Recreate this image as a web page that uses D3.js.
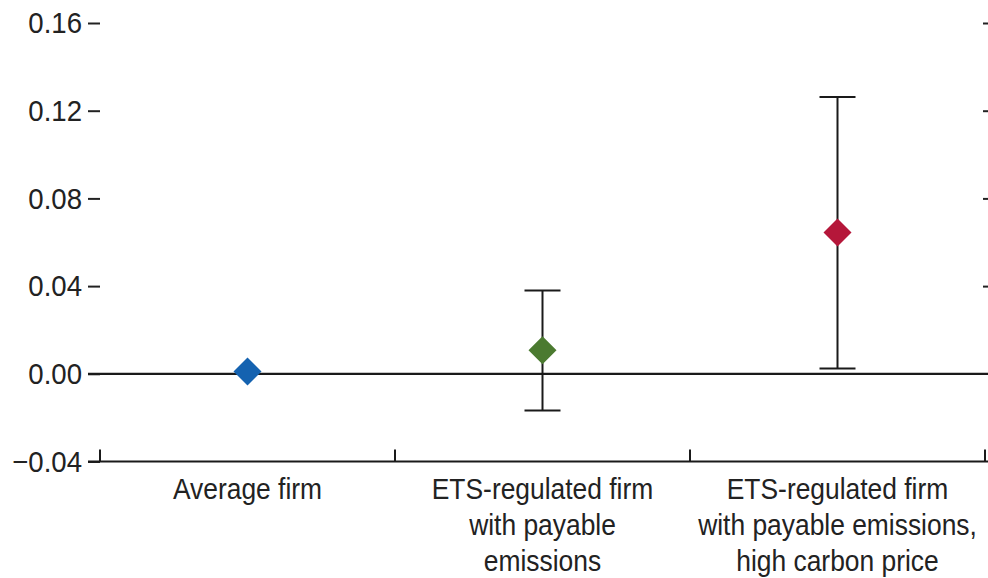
<!DOCTYPE html>
<html>
<head>
<meta charset="utf-8">
<script src="https://cdn.jsdelivr.net/npm/d3@7/dist/d3.min.js"></script>
<style>
  html, body { margin: 0; padding: 0; background: #fff; }
  svg { display: block; }
  text { font-family: "Liberation Sans", Arial, sans-serif; fill: #222; }
</style>
</head>
<body>
<svg id="chart" width="988" height="578"></svg>
<script>
// Firm groups shown along the x axis
const categories = ["avg", "ets", "etsHigh"];
const categoryLabels = [
  ["Average firm"],
  ["ETS-regulated firm", "with payable", "emissions"],
  ["ETS-regulated firm", "with payable emissions,", "high carbon price"]
];

// Point estimates and confidence bounds (null where no interval is drawn)
const estimates = [0.001, 0.0107, 0.0645];
const lowerBounds = [null, -0.0167, 0.0024];
const upperBounds = [null, 0.038, 0.1262];
const markerColors = ["#1462b0", "#4b7a30", "#b5173a"];

// Y-axis ticks
const yTicks = [-0.04, 0.00, 0.04, 0.08, 0.12, 0.16];

const svg = d3.select("#chart");
const W = 988;
const plotLeft = 100, plotRight = 985, plotTop = 23, plotBottom = 461.5;
const condensed = 0.88; // horizontal squeeze for a condensed look

const x = d3.scaleBand().domain(categories).range([plotLeft, plotRight]).padding(0);
const y = d3.scaleLinear().domain([-0.04, 0.16]).range([plotBottom, plotTop]);

const fmt = d3.format(".2f");

// Left axis: labels with short outward dashes
const yAxis = d3.axisLeft(y)
  .tickValues(yTicks)
  .tickSize(12)
  .tickPadding(6)
  .tickFormat(d => d < 0 ? "\u2212" + fmt(-d) : fmt(d));

const gy = svg.append("g").attr("transform", `translate(${plotLeft},0)`).call(yAxis);
gy.select(".domain").remove();
gy.selectAll(".tick line").attr("stroke", "#222").attr("stroke-width", 2);
gy.selectAll(".tick text")
  .attr("x", 0)
  .attr("transform", `translate(-18,0) scale(0.92,1)`)
  .attr("font-size", 30)
  .style("font-family", "'Liberation Sans', Arial, sans-serif")
  .attr("fill", "#222");

// Right axis: short inward ticks only
const yAxisRight = d3.axisLeft(y)
  .tickValues(yTicks.filter(d => d > 0))
  .tickSize(5)
  .tickFormat("");
const gyr = svg.append("g").attr("transform", `translate(${W},0)`).call(yAxisRight);
gyr.select(".domain").remove();
gyr.selectAll(".tick line").attr("stroke", "#222").attr("stroke-width", 2);

// Zero reference line
svg.append("line")
  .attr("x1", plotLeft - 12).attr("x2", W)
  .attr("y1", y(0)).attr("y2", y(0))
  .attr("stroke", "#1a1a1a").attr("stroke-width", 2.2);

// Bottom axis line with upward ticks at category boundaries
svg.append("line")
  .attr("x1", plotLeft - 12).attr("x2", W)
  .attr("y1", y(-0.04)).attr("y2", y(-0.04))
  .attr("stroke", "#1a1a1a").attr("stroke-width", 2.2);

const boundaries = categories.map(c => x(c)).concat([x(categories[categories.length - 1]) + x.bandwidth()]);
svg.append("g").selectAll("line")
  .data(boundaries)
  .join("line")
  .attr("x1", d => d).attr("x2", d => d)
  .attr("y1", y(-0.04)).attr("y2", y(-0.04) - 12)
  .attr("stroke", "#1a1a1a").attr("stroke-width", 2);

// Category labels, centred under each band
const labelG = svg.append("g");
categories.forEach((c, i) => {
  const cx = x(c) + x.bandwidth() / 2;
  const t = labelG.append("text")
    .attr("transform", `translate(${cx},499) scale(${condensed},1)`)
    .attr("text-anchor", "middle")
    .attr("font-size", 30);
  categoryLabels[i].forEach((line, j) => {
    t.append("tspan")
      .attr("x", 0)
      .attr("dy", j === 0 ? 0 : 36)
      .text(line);
  });
});

// Confidence intervals
const capHalf = 18;
const ci = categories.map((c, i) => ({ c, lo: lowerBounds[i], hi: upperBounds[i] }))
  .filter(d => d.lo !== null);
const ciG = svg.append("g").attr("stroke", "#1a1a1a").attr("stroke-width", 2);
ci.forEach(d => {
  const cx = x(d.c) + x.bandwidth() / 2;
  ciG.append("line").attr("x1", cx).attr("x2", cx).attr("y1", y(d.lo)).attr("y2", y(d.hi));
  ciG.append("line").attr("x1", cx - capHalf).attr("x2", cx + capHalf).attr("y1", y(d.hi)).attr("y2", y(d.hi));
  ciG.append("line").attr("x1", cx - capHalf).attr("x2", cx + capHalf).attr("y1", y(d.lo)).attr("y2", y(d.lo));
});

// Diamond markers for the point estimates
const r = 14;
svg.append("g").selectAll("path")
  .data(categories.map((c, i) => ({ c, v: estimates[i], col: markerColors[i] })))
  .join("path")
  .attr("transform", d => `translate(${x(d.c) + x.bandwidth() / 2},${y(d.v)})`)
  .attr("d", `M0,${-r}L${r},0L0,${r}L${-r},0Z`)
  .attr("fill", d => d.col);
</script>
</body>
</html>
